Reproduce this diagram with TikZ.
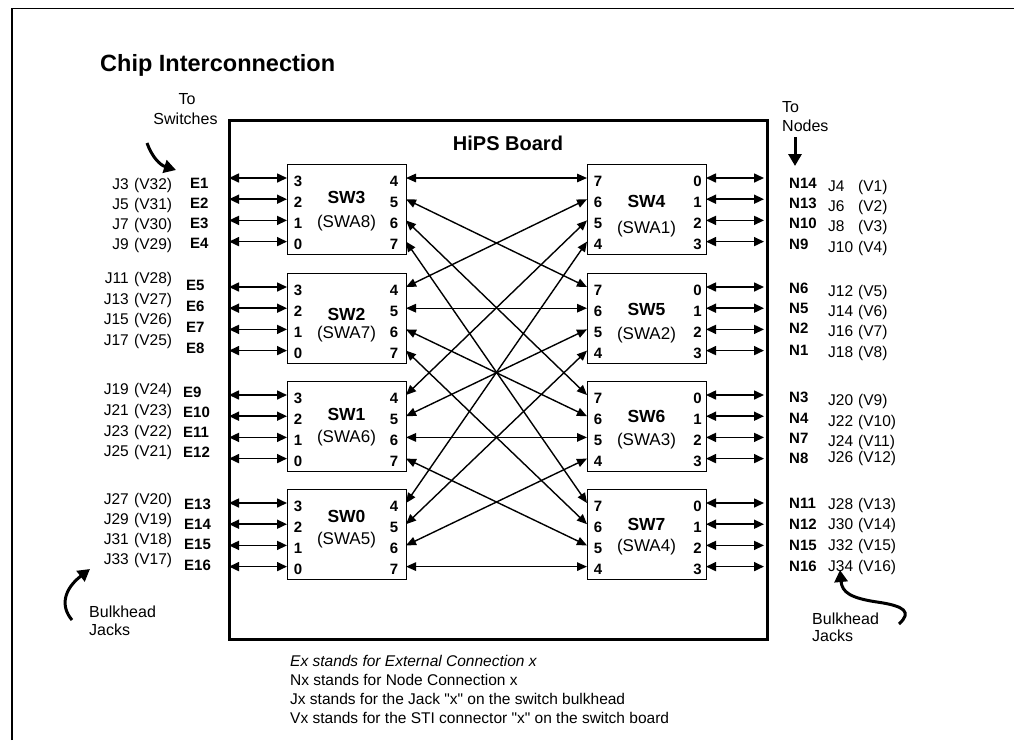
\documentclass[tikz,border=0pt]{standalone}
\usepackage{fontspec}
\setmainfont{Liberation Sans}[Ligatures=TeXOff]
\usetikzlibrary{arrows.meta}
\begin{document}
\begin{tikzpicture}[x=1pt,y=-1pt,
  txt/.style={inner sep=0pt, text depth=0pt},
  jlab/.style={txt, font=\fontsize{15.5}{18}\selectfont, text height=11.1pt},
  elab/.style={txt, font=\fontsize{15}{18}\selectfont\bfseries, text height=10.7pt},
  portlab/.style={txt, font=\fontsize{15}{17}\selectfont\bfseries, text height=10.7pt},
  swname/.style={txt, font=\fontsize{17.5}{20}\selectfont\bfseries, text height=12.5pt},
  swa/.style={txt, font=\fontsize{17}{20}\selectfont, text height=12.2pt},
  notelab/.style={txt, font=\fontsize{16}{19}\selectfont, text height=11.5pt},
  legend/.style={txt, font=\fontsize{15.5}{18}\selectfont, text height=11.1pt, anchor=west},
  swbox/.style={draw, line width=0.9pt, minimum width=119pt, minimum height=90pt, inner sep=0pt, anchor=north west},
  link/.style={line width=1.6pt, {Triangle[length=10pt,width=9pt]}-{Triangle[length=10pt,width=9pt]}},
  crossl/.style={line width=1.4pt, {Triangle[length=10pt,width=8.5pt]}-{Triangle[length=10pt,width=8.5pt]}},
  bigarrow/.style={line width=3pt, -{Triangle[length=12pt,width=13pt]}},
]
\useasboundingbox (0,0) rectangle (1014,740);
% outer frame
\draw[line width=1.5pt] (12,740) -- (12,8.3) -- (1014,8.3);

% title
\node[txt, font=\fontsize{23.5}{28}\selectfont\bfseries, text height=16.8pt, anchor=west] (title) at (100,63.5) {Chip Interconnection};

% board
\node[draw, line width=3pt, inner sep=0pt, minimum width=538.5pt, minimum height=519pt, anchor=north west] (board) at (227.5,119) {};
\node[txt, font=\fontsize{20}{24}\selectfont\bfseries, text height=14.3pt] (hips) at (508,143.3) {HiPS Board};

% left switches
\foreach \s/\t/\sy/\ay/\swn in {3/164/33.5/57.7/SWA8, 2/273/41/59.5/SWA7, 1/381/33/55.7/SWA6, 0/489/27/49/SWA5} {
  \node[swbox] (sw\s) at (287,\t) {};
  \node[swname] (sw\s-name) at (346.5,\t+\sy) {SW\s};
  \node[swa] (sw\s-swa) at (346.5,\t+\ay) {(\swn)};
  \foreach \i in {0,...,3} {
    \pgfmathsetmacro\yy{\t+14+21.2*\i}
    \pgfmathtruncatemacro\pl{3-\i}
    \pgfmathtruncatemacro\pr{4+\i}
    \coordinate (sw\s-\pl) at (287,\yy);
    \coordinate (sw\s-\pr) at (406,\yy);
    \coordinate (bl-\s-\pl) at (229,\yy);
    \node[portlab] (sw\s-n\pl) at (298,\yy+3) {\pl};
    \node[portlab] (sw\s-n\pr) at (394,\yy+3) {\pr};
    \draw[link] (bl-\s-\pl) -- (sw\s-\pl);
  }
}

% right switches
\foreach \s/\t/\sy/\ay/\swn in {4/164/37/63.5/SWA1, 5/273/36/60.5/SWA2, 6/381/35/58.5/SWA3, 7/489/35/56/SWA4} {
  \node[swbox] (sw\s) at (587,\t) {};
  \node[swname] (sw\s-name) at (646.5,\t+\sy) {SW\s};
  \node[swa] (sw\s-swa) at (646.5,\t+\ay) {(\swn)};
  \foreach \i in {0,...,3} {
    \pgfmathsetmacro\yy{\t+14+21.2*\i}
    \pgfmathtruncatemacro\pl{7-\i}
    \pgfmathtruncatemacro\pr{\i}
    \coordinate (sw\s-\pl) at (587,\yy);
    \coordinate (sw\s-\pr) at (706,\yy);
    \coordinate (br-\s-\pr) at (764,\yy);
    \node[portlab] (sw\s-n\pl) at (598,\yy+3) {\pl};
    \node[portlab] (sw\s-n\pr) at (697.5,\yy+3) {\pr};
    \draw[link] (sw\s-\pr) -- (br-\s-\pr);
  }
}

% crossing links
\foreach \L in {0,...,3} {
  \foreach \b in {0,...,3} {
    \pgfmathtruncatemacro\lp{4+\b}
    \pgfmathtruncatemacro\rp{4+\L}
    \draw[crossl] (sw\L-\lp) -- (sw\lp-\rp);
  }
}

% left labels
\foreach \e/\jj/\vv/\jy/\ey/\ex in {
  1/3/32/184/183/190, 2/5/31/204/203/190, 3/7/30/223.5/223/190, 4/9/29/244/243/190,
  5/11/28/278/285.5/186, 6/13/27/299/306/186, 7/15/26/319/327/186, 8/17/25/340/348/186,
  9/19/24/389/392/183, 10/21/23/410/412/183, 11/23/22/431/432/183, 12/25/21/451/452/183,
  13/27/20/499/504/184, 14/29/19/519/524/184, 15/31/18/539/544/184, 16/33/17/559/565/184} {
  \node[jlab, anchor=east] (jl\e) at (129,\jy) {J\jj};
  \node[jlab, anchor=west] (vl\e) at (134,\jy) {(V\vv)};
  \node[elab, anchor=west] (el\e) at (\ex,\ey) {E\e};
}

% right labels
\foreach \n/\ny/\jj/\vv/\jy in {
  14/183/4/1/186, 13/203/6/2/206, 10/223/8/3/226, 9/244/10/4/247,
  6/288/12/5/291, 5/308/14/6/311, 2/328/16/7/331, 1/350/18/8/352,
  3/397/20/9/400, 4/418/22/10/421, 7/438/24/11/441, 8/458/26/12/457,
  11/503/28/13/504, 12/524/30/14/524, 15/545/32/15/545, 16/566/34/16/566} {
  \node[elab, anchor=west] (nr\n) at (789,\ny) {N\n};
  \node[jlab, anchor=west] (jr\n) at (828,\jy) {J\jj};
  \node[jlab, anchor=west] (vr\n) at (858,\jy) {(V\vv)};
}

% To Switches
\node[notelab] (toS1) at (187,99) {To};
\node[notelab] (toS2) at (185.5,118.5) {Switches};
\coordinate (tsA) at (147,143);
\coordinate (tsB) at (176,170);
\draw[bigarrow] (tsA) .. controls (152,157) and (160,165) .. (tsB);

% To Nodes
\node[notelab, anchor=west] (toN1) at (782,106.5) {To};
\node[notelab, anchor=west] (toN2) at (782,126) {Nodes};
\coordinate (tnA) at (795,137);
\coordinate (tnB) at (795,166);
\draw[bigarrow] (tnA) -- (tnB);

% Bulkhead Jacks left
\node[notelab, anchor=west] (bjL1) at (89,611.5) {Bulkhead};
\node[notelab, anchor=west] (bjL2) at (89,630) {Jacks};
\coordinate (blA) at (72,620);
\coordinate (blB) at (90,569);
\draw[bigarrow] (blA) .. controls (60,606) and (64,589) .. (blB);

% Bulkhead Jacks right
\node[notelab, anchor=west] (bjR1) at (812,618.5) {Bulkhead};
\node[notelab, anchor=west] (bjR2) at (812,636) {Jacks};
\coordinate (brA) at (899,624);
\coordinate (brB) at (840,570);
\draw[bigarrow] (brA) .. controls (912,612) and (905,606) .. (877,602) .. controls (850,598) and (842,592) .. (brB);

% legend
\node[legend, font=\fontsize{15.5}{18}\selectfont\itshape] (leg1) at (290,661) {Ex stands for External Connection x};
\node[legend] (leg2) at (290,680) {Nx stands for Node Connection x};
\node[legend] (leg3) at (290,699) {Jx stands for the Jack "x" on the switch bulkhead};
\node[legend] (leg4) at (290,717.5) {Vx stands for the STI connector "x" on the switch board};
\end{tikzpicture}
\end{document}
